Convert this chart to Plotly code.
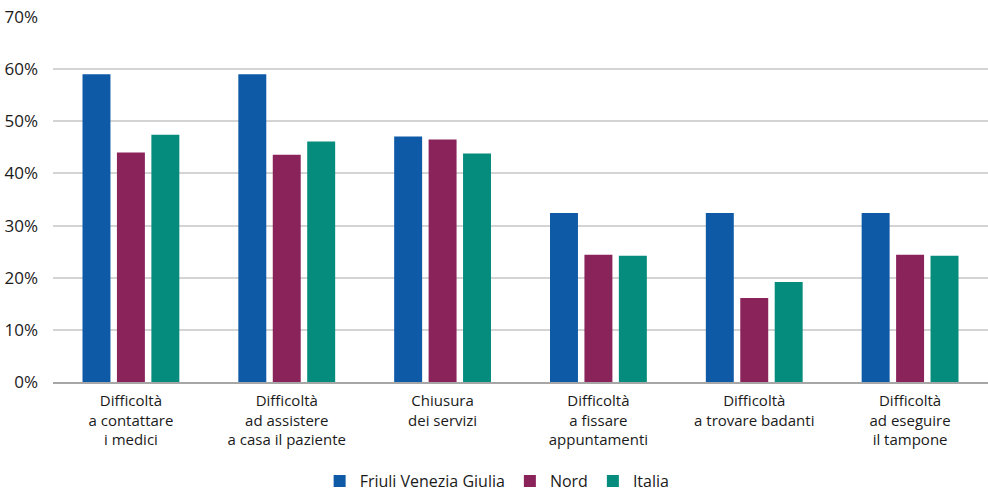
import plotly.graph_objects as go

categories = [
    "Difficoltà<br>a contattare<br>i medici",
    "Difficoltà<br>ad assistere<br>a casa il paziente",
    "Chiusura<br>dei servizi",
    "Difficoltà<br>a fissare<br>appuntamenti",
    "Difficoltà<br>a trovare badanti",
    "Difficoltà<br>ad eseguire<br>il tampone",
]
fvg = [59.0, 59.0, 47.1, 32.4, 32.4, 32.4]
nord = [44.0, 43.6, 46.5, 24.4, 16.1, 24.4]
italia = [47.4, 46.1, 43.8, 24.2, 19.2, 24.2]
tick_vals = [0, 10, 20, 30, 40, 50, 60, 70]
tick_text = [f"{v}%" for v in tick_vals]

FONT = "Open Sans, sans-serif"

fig = go.Figure()
for name, vals, col in [
    ("Friuli Venezia Giulia", fvg, "#0E5AA7"),
    ("Nord", nord, "#8B235B"),
    ("Italia", italia, "#058C7D"),
]:
    fig.add_trace(go.Bar(x=categories, y=vals, name=name, marker=dict(color=col, line=dict(width=0))))

fig.update_layout(
    width=988, height=492,
    margin=dict(l=53, r=0, t=17, b=110),
    paper_bgcolor="white", plot_bgcolor="white",
    barmode="group", bargap=0.337, bargroupgap=0.188,
    font=dict(family=FONT, size=15, color="#1a1a1a"),
    legend=dict(orientation="h", x=0.475, xanchor="center",
                yref="container", y=0.022, yanchor="middle",
                font=dict(size=16), itemwidth=30, traceorder="normal"),
    showlegend=True,
)
fig.update_yaxes(range=[0, 70], tickvals=tick_vals, ticktext=tick_text,
                 showgrid=True, gridcolor="#d4d4d4", gridwidth=1.5,
                 zeroline=False, showline=False, ticks="", ticklabelstandoff=14,
                 tickfont=dict(size=17, color="#1a1a1a"))
fig.update_xaxes(showline=True, linecolor="#a6a6a6", linewidth=2, ticks="",
                 tickfont=dict(size=15, color="#1a1a1a"), ticklabelstandoff=4, tickangle=0)

fig.write_html("out.html")
